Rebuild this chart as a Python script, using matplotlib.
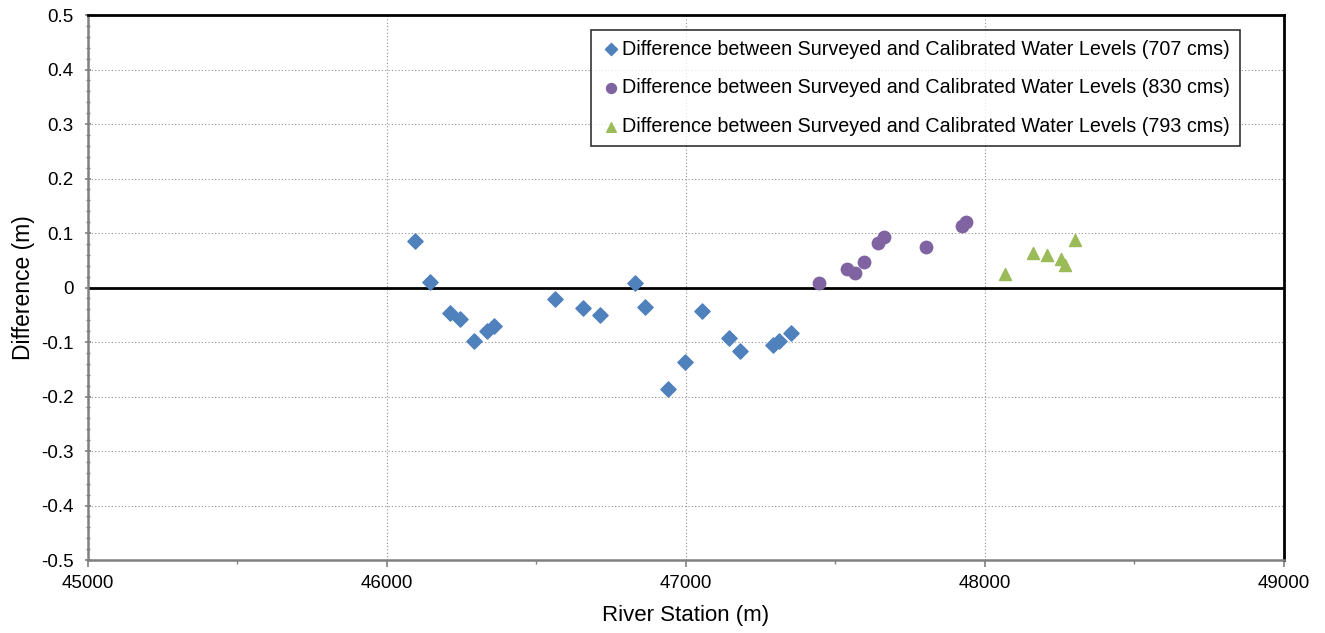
import numpy as np
import matplotlib.pyplot as plt
from matplotlib.ticker import MultipleLocator

# River station (m) and surveyed minus calibrated water level (m)
station_707 = [46094, 46144, 46211, 46244, 46291, 46334, 46358, 46562, 46656, 46712,
               46829, 46863, 46940, 46997, 47054, 47144, 47181, 47291, 47311, 47351]
diff_707 = [0.085, 0.010, -0.047, -0.058, -0.098, -0.079, -0.071, -0.021, -0.037, -0.051,
            0.009, -0.035, -0.186, -0.137, -0.043, -0.093, -0.117, -0.106, -0.099, -0.084]

station_830 = [47445, 47537, 47564, 47596, 47643, 47662, 47803, 47924, 47936]
diff_830 = [0.009, 0.034, 0.027, 0.047, 0.082, 0.092, 0.075, 0.112, 0.121]

station_793 = [48067, 48162, 48206, 48256, 48268, 48301]
diff_793 = [0.025, 0.063, 0.060, 0.052, 0.042, 0.088]

labels = ["Difference between Surveyed and Calibrated Water Levels (707 cms)",
          "Difference between Surveyed and Calibrated Water Levels (830 cms)",
          "Difference between Surveyed and Calibrated Water Levels (793 cms)"]

plt.rcParams['font.family'] = ['Liberation Sans', 'DejaVu Sans']

fig = plt.figure(figsize=(13.25, 6.33), dpi=100)
ax = fig.add_axes([0.0664, 0.1153, 0.9026, 0.861])

ax.scatter(station_707, diff_707, marker='D', s=60, color='#4F81BD', label=labels[0], zorder=3)
ax.scatter(station_830, diff_830, marker='o', s=80, color='#8064A2', label=labels[1], zorder=3)
ax.scatter(station_793, diff_793, marker='^', s=75, color='#9BBB59', label=labels[2], zorder=3)

ax.axhline(0, color='black', lw=2, zorder=2)

ax.set_xlim(45000, 49000)
ax.set_ylim(-0.5, 0.5)
ax.xaxis.set_major_locator(MultipleLocator(1000))
ax.xaxis.set_minor_locator(MultipleLocator(500))
ax.yaxis.set_major_locator(MultipleLocator(0.1))
ax.yaxis.set_minor_locator(MultipleLocator(0.02))
ax.yaxis.set_major_formatter(plt.FuncFormatter(lambda v, p: f"{v:.1f}" if abs(v) > 1e-9 else "0"))

ax.grid(True, which='major', color='#909090', ls=(0, (1, 2)), lw=0.8)
ax.tick_params(axis='both', which='major', labelsize=13.5, color='#808080', length=5, width=1.2)
ax.tick_params(axis='both', which='minor', color='#808080', length=3, width=1)
ax.tick_params(axis='y', which='both', direction='inout', pad=8)
ax.tick_params(axis='x', which='both', direction='out', pad=6)

for side in ['top', 'right']:
    ax.spines[side].set_color('black')
    ax.spines[side].set_linewidth(2)
for side in ['left', 'bottom']:
    ax.spines[side].set_color('#808080')
    ax.spines[side].set_linewidth(1.8)

ax.set_xlabel("River Station (m)", fontsize=16, labelpad=9)
ax.set_ylabel("Difference (m)", fontsize=16.5, labelpad=4)

leg = ax.legend(loc='upper right', bbox_to_anchor=(0.963, 0.973), fontsize=14.2,
                frameon=True, fancybox=False, handletextpad=0.05, handlelength=1.0,
                borderpad=0.5, labelspacing=1.0, markerscale=0.8, borderaxespad=0)
leg.get_frame().set_edgecolor('black')
leg.get_frame().set_linewidth(1.2)

fig.savefig("out.png", dpi=100)
